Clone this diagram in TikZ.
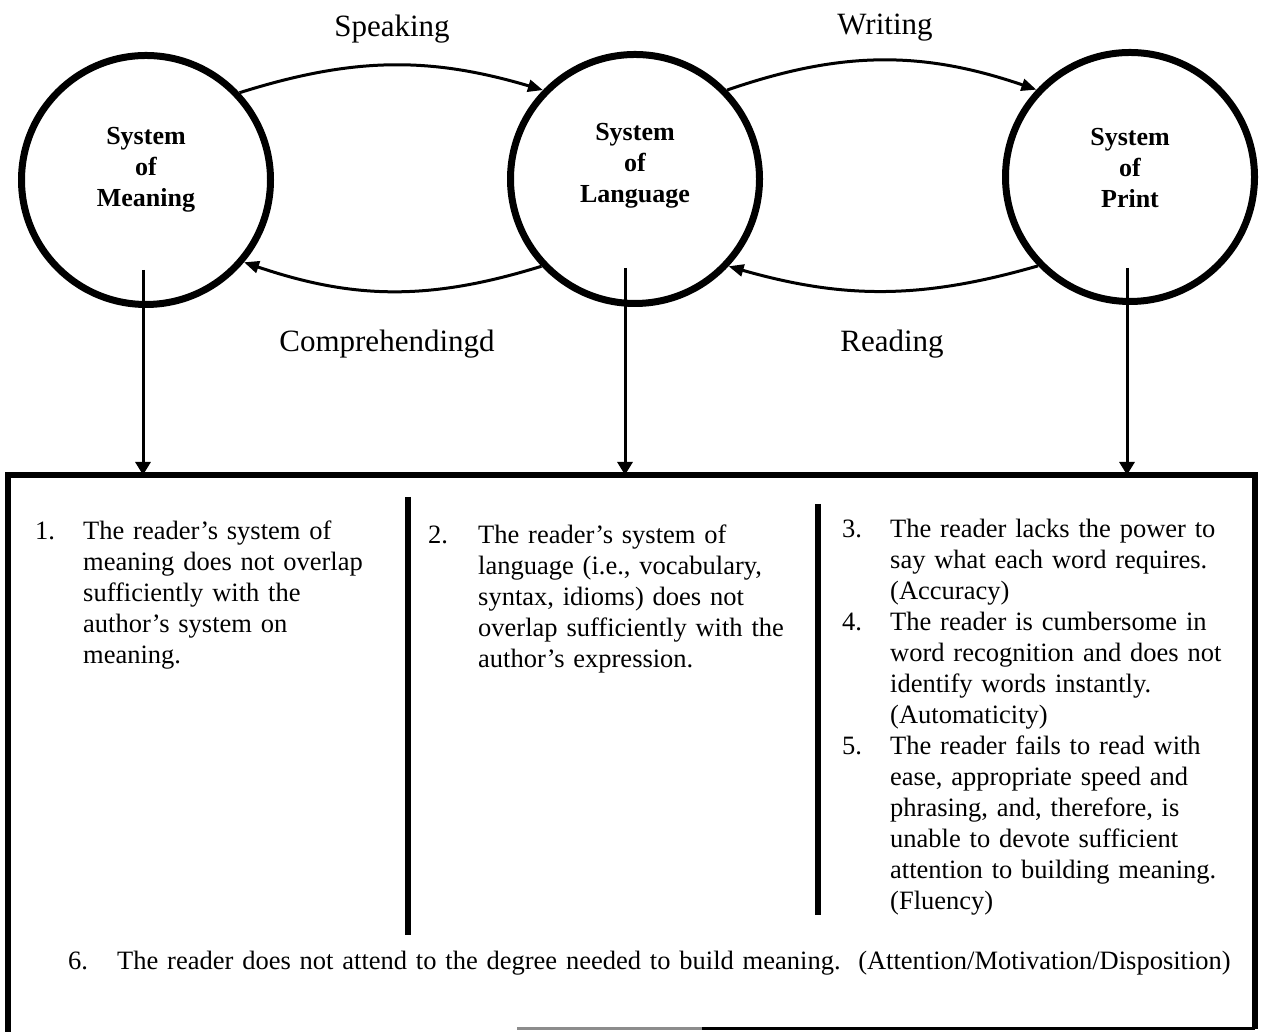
\documentclass[tikz,border=0pt]{standalone}
\usepackage{fontspec}
\setmainfont{Liberation Serif}
\usetikzlibrary{arrows.meta}
\begin{document}
\begin{tikzpicture}[x=1pt,y=1pt,
  sys/.style={circle, draw, line width=7pt, minimum size=249pt, inner sep=0pt},
  syslbl/.style={align=center, font=\fontsize{26}{31}\selectfont\bfseries, inner sep=0pt},
  flow/.style={line width=3pt, -{Triangle[length=15pt,width=12pt]}},
  flowlbl/.style={font=\fontsize{31}{36}\selectfont, inner sep=0pt, anchor=base},
  itemtxt/.style={font=\fontsize{26.5}{31}\selectfont, inner sep=0pt, anchor=base west, align=left, text width=#1},
  itemtxt/.default=420pt,
  num/.style={font=\fontsize{26.5}{31}\selectfont, inner sep=0pt, anchor=base west},
  down/.style={line width=3pt, -{Triangle[length=13pt,width=15pt]}},
  rulebar/.style={line width=5.5pt}]
\useasboundingbox (0,0) rectangle (1266,1032);

% circles
\node[sys] (L) at (146,852) {};
\node[sys] (M) at (635,853) {};
\node[sys] (P) at (1130,855) {};
\node[syslbl] (Lt) at (146,862) {System\\of\\Meaning};
\node[syslbl] (Mt) at (635,866) {System\\of\\Language};
\node[syslbl] (Pt) at (1130,864) {System\\of\\Print};

% curved arrows
\draw[flow] (L.43) to[bend left=17] (M.136);
\draw[flow] (M.44) to[bend left=19] (P.137);
\draw[flow] (M.223) to[bend left=18] (L.320);
\draw[flow] (P.224) to[bend left=16] (M.317);

\node[flowlbl] (sp) at (392,995) {Speaking};
\node[flowlbl] (wr) at (885,997) {Writing};
\node[flowlbl] (co) at (387,680) {Comprehendingd};
\node[flowlbl] (re) at (892,680) {Reading};

% box
\draw[rulebar] (8,0) -- (8,557) -- (1255,557) -- (1255,3);
\draw[line width=3pt, black!45] (517,3) -- (702,3);
\draw[line width=3pt] (702,3) -- (1255,3);

% vertical arrows
\coordinate (La) at (143,762);
\coordinate (Lb) at (143,557);
\coordinate (Ma) at (625,764);
\coordinate (Mb) at (625,557);
\coordinate (Pa) at (1127,764);
\coordinate (Pb) at (1127,557);
\draw[down] (La) -- (Lb);
\draw[down] (Ma) -- (Mb);
\draw[down] (Pa) -- (Pb);

% dividers
\draw[rulebar] (408,535) -- (408,97);
\draw[rulebar] (818,528) -- (818,117);

% items
\node[num] (n1) at (35,492) {1.};
\node[itemtxt] (t1) at (83,492) {The reader’s system of\\meaning does not overlap\\sufficiently with the\\author’s system on\\meaning.};

\node[num] (n2) at (428,488) {2.};
\node[itemtxt] (t2) at (478,488) {The reader’s system of\\language (i.e., vocabulary,\\syntax, idioms) does not\\overlap sufficiently with the\\author’s expression.};

\node[num] (n3) at (842,494) {3.};
\node[num] (n4) at (842,401) {4.};
\node[num] (n5) at (842,277) {5.};
\node[itemtxt] (t3) at (890,494) {The reader lacks the power to\\say what each word requires.\\(Accuracy)\\The reader is cumbersome in\\word recognition and does not\\identify words instantly.\\(Automaticity)\\The reader fails to read with\\ease, appropriate speed and\\phrasing, and, therefore, is\\unable to devote sufficient\\attention to building meaning.\\(Fluency)};

\node[num] (n6) at (68,62) {6.};
\node[itemtxt=1140pt] (t6) at (117,62) {The reader does not attend to the degree needed to build meaning.~~(Attention/Motivation/Disposition)};
\end{tikzpicture}
\end{document}
